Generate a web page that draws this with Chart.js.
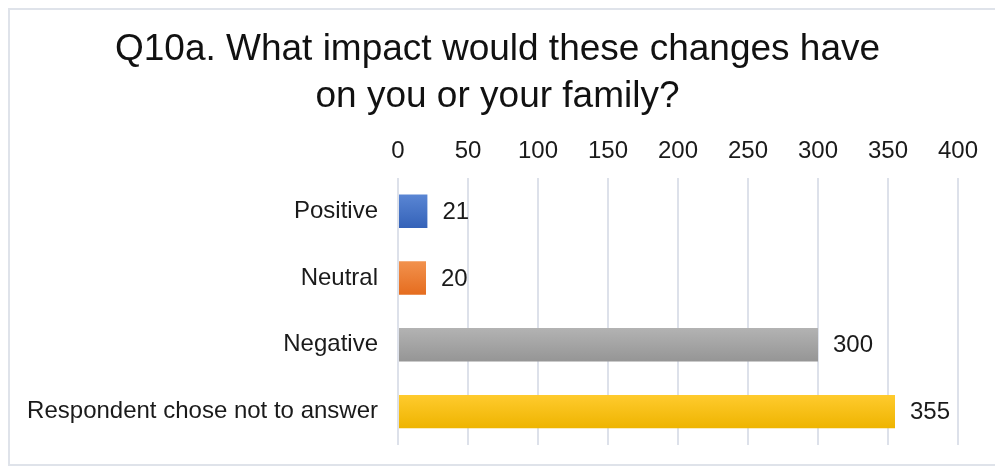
<!DOCTYPE html>
<html>
<head>
<meta charset="utf-8">
<script src="https://cdn.jsdelivr.net/npm/chart.js@4.4.1/dist/chart.umd.min.js"></script>
<style>
  html, body { margin: 0; padding: 0; background: #fff; }
  #wrap { position: relative; width: 995px; height: 468px; overflow: hidden; }
  #frame { position: absolute; left: 8px; top: 8px; width: 1000px; height: 458px;
           border: 2px solid #dfe3ea; box-sizing: border-box; }
  canvas { position: absolute; left: 0; top: 0; }
</style>
</head>
<body>
<div id="wrap">
  <div id="frame"></div>
  <canvas id="chart" width="995" height="468"></canvas>
</div>
<script>
// Survey answers for Q10a
const categories = ['Positive', 'Neutral', 'Negative', 'Respondent chose not to answer'];
const counts = [21, 20, 300, 355];
const xTicks = [0, 50, 100, 150, 200, 250, 300, 350, 400];
const titleLines = ['Q10a. What impact would these changes have', 'on you or your family?'];

// top / bottom colour of each bar gradient (Excel-ish palette)
const barTop = ['#5a86d4', '#f2924e', '#b3b3b3', '#ffcb2e'];
const barBottom = ['#3462b8', '#e56c1e', '#959595', '#eeb400'];

const FONT = '"Liberation Sans", Arial, sans-serif';

// vertical gradient for each bar, worked out from the category scale
function barGradient(context) {
  const chart = context.chart;
  const yScale = chart.scales.y;
  const i = context.dataIndex;
  if (i === undefined) return barBottom[0];
  const mid = yScale ? yScale.getPixelForValue(i) : NaN;
  if (!isFinite(mid)) return barBottom[i];
  const half = 17;
  const g = chart.ctx.createLinearGradient(0, mid - half, 0, mid + half);
  g.addColorStop(0, barTop[i]);
  g.addColorStop(1, barBottom[i]);
  return g;
}

// value labels at the end of each bar
const valueLabels = {
  id: 'valueLabels',
  afterDatasetsDraw(chart) {
    const ctx = chart.ctx;
    const meta = chart.getDatasetMeta(0);
    ctx.save();
    ctx.font = '24px ' + FONT;
    ctx.fillStyle = '#1a1a1a';
    ctx.textAlign = 'left';
    ctx.textBaseline = 'middle';
    meta.data.forEach((bar, i) => {
      ctx.fillText(String(counts[i]), bar.x + 15, bar.y + 1);
    });
    ctx.restore();
  }
};

// title centred on the whole page (the built-in one centres between the paddings)
const pageTitle = {
  id: 'pageTitle',
  afterDraw(chart) {
    const ctx = chart.ctx;
    ctx.save();
    ctx.font = '37px ' + FONT;
    ctx.fillStyle = '#111';
    ctx.textAlign = 'center';
    ctx.textBaseline = 'middle';
    titleLines.forEach((line, i) => {
      ctx.fillText(line, chart.width / 2, 50 + i * 47);
    });
    ctx.restore();
  }
};

new Chart(document.getElementById('chart'), {
  type: 'bar',
  data: {
    labels: categories,
    datasets: [{
      data: counts,
      backgroundColor: barGradient,
      borderWidth: 0,
      barPercentage: 0.5,
      categoryPercentage: 1
    }]
  },
  options: {
    indexAxis: 'y',
    responsive: false,
    animation: false,
    layout: { padding: { left: 0, right: 37, top: 125, bottom: 23 } },
    plugins: {
      legend: { display: false },
      tooltip: { enabled: false },
      title: { display: false }
    },
    scales: {
      x: {
        position: 'top',
        min: 0,
        max: 400,
        afterBuildTicks: axis => { axis.ticks = xTicks.map(v => ({ value: v })); },
        grid: { color: '#dde1ea', lineWidth: 2, drawTicks: false },
        border: { display: false },
        ticks: {
          color: '#1a1a1a',
          padding: 12,
          maxRotation: 0,
          font: { family: FONT, size: 24 }
        }
      },
      y: {
        afterFit: axis => {
          axis.width = 398;
          axis.paddingTop = 0;
          axis.paddingBottom = 0;
        },
        grid: { display: false, drawTicks: false },
        border: { display: false },
        ticks: {
          color: '#1a1a1a',
          padding: 20,
          font: { family: FONT, size: 24 }
        }
      }
    }
  },
  plugins: [valueLabels, pageTitle]
});
</script>
</body>
</html>
